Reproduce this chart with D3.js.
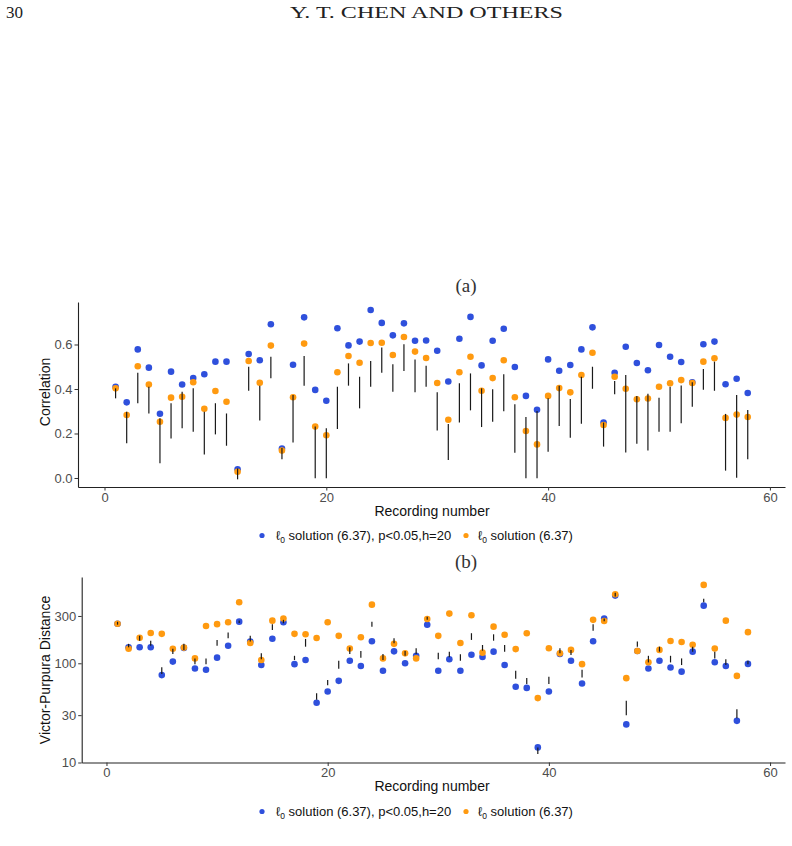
<!DOCTYPE html>
<html><head><meta charset="utf-8">
<script src="https://cdn.jsdelivr.net/npm/d3@7"></script>
<style>
body{margin:0;background:#fff;}
svg text{font-family:"Liberation Sans",Arial,sans-serif;}
.serif{font-family:"Liberation Serif","DejaVu Serif",serif !important;}
</style></head>
<body><svg id="c" width="792" height="846"></svg>
<script>
const recordings = d3.range(1, 59);
const blueA = [0.41,0.34,0.578,0.496,0.289,0.478,0.42,0.449,0.466,0.523,0.523,0.039,0.557,0.529,0.691,0.132,0.509,0.722,0.396,0.347,0.673,0.596,0.613,0.755,0.697,0.641,0.695,0.617,0.618,0.572,0.434,0.626,0.724,0.506,0.617,0.671,0.499,0.369,0.307,0.533,0.482,0.508,0.578,0.677,0.249,0.473,0.59,0.517,0.484,0.598,0.545,0.521,0.43,0.601,0.613,0.421,0.446,0.382];
const orangeA = [0.403,0.283,0.502,0.42,0.253,0.361,0.365,0.43,0.311,0.391,0.343,0.028,0.526,0.428,0.595,0.123,0.363,0.604,0.231,0.192,0.475,0.548,0.518,0.607,0.608,0.553,0.634,0.568,0.539,0.427,0.262,0.475,0.545,0.392,0.449,0.529,0.363,0.211,0.151,0.369,0.404,0.385,0.463,0.563,0.238,0.455,0.401,0.354,0.357,0.41,0.426,0.44,0.427,0.523,0.538,0.27,0.285,0.274];
const segHiA = [0.403,0.298,0.473,0.41,0.268,0.336,0.388,0.403,0.298,0.336,0.29,0.043,0.5,0.415,0.545,0.135,0.373,0.548,0.231,0.223,0.41,0.515,0.455,0.526,0.587,0.511,0.601,0.533,0.505,0.385,0.243,0.426,0.47,0.403,0.399,0.466,0.331,0.274,0.301,0.358,0.415,0.355,0.455,0.5,0.249,0.436,0.463,0.369,0.379,0.361,0.41,0.416,0.43,0.49,0.523,0.288,0.373,0.306];
const segLoA = [0.358,0.156,0.336,0.29,0.066,0.178,0.223,0.208,0.106,0.196,0.145,-0.006,0.392,0.258,0.448,0.084,0.159,0.415,-0.001,-0.001,0.22,0.415,0.313,0.41,0.473,0.388,0.481,0.385,0.41,0.213,0.081,0.249,0.304,0.229,0.253,0.3,0.114,-0.001,-0.001,0.118,0.234,0.181,0.244,0.401,0.141,0.376,0.115,0.154,0.123,0.208,0.208,0.246,0.32,0.397,0.392,0.033,0.001,0.084];

const blueB = [250,145,145,145,76,104,143,88.5,86,114,150,263,166,96,177,259,98,108,40,52,66.5,106,94,167,84,132,100,119,245,84,110,84,122,116,131,96,58,56.5,14.2,52,124,106,62.5,167,282,481,24.2,133,88.5,106,90.6,82.4,131,381,102.6,94,26.3,98.6];
const orangeB = [250,140,181,202,198,140,144,112,238,248,259,412,160,108,269,282,198,196,180,259,189,141,183,390,112,157,126,112,280,189,317,160,305,128,234,194,139,201,44.6,142,126,136.5,98,274,267,497,70.8,133,102.6,136.5,168,164,154,617,141,269,74.6,206];
const segHiB = [262,157,190,169,91,140,157,112,112,172,204,270,189,126,248,274,119,176,50,68,106,145,133,263,124,179,133,142,295,128,131,123,201,153,196,153,84,71,14.2,73,142,136,86,248,282,515,42,166,119,147,119,112,147,446,131,110,34.5,106];
const segLoB = [245,145,169,150,78,124,136,98,98,150,179,255,166,110,217,253,108,147,43,60,88,124,114,234,108,159,119,124,274,110,115,106,172,134,169,131,70,62,12.2,62,126,121,72,213,265,470,30,147,102,131,102,96,131,412,112,96,28,98];

const xTicks = [0,20,40,60];
const yTicksA = [0,0.2,0.4,0.6];
const yTicksB = [10,30,100,300];
const legendLabels = ["solution (6.37), p<0.05,h=20","solution (6.37)"];
const BLUE = "#2F50DC", ORANGE = "#FF9A10";

const svg = d3.select("#c");

// page header
svg.append("text").attr("class","serif").attr("x",6).attr("y",18).attr("font-size",17).attr("fill","#222").text("30");
svg.append("text").attr("class","serif").attr("x",290).attr("y",18).attr("font-size",17).attr("fill","#222")
  .attr("textLength",273).attr("lengthAdjust","spacingAndGlyphs").text("Y. T. CHEN AND OTHERS");

function panel(opts){
  const g = svg.append("g");
  const x = d3.scaleLinear().domain(opts.xd).range([opts.left, 785]);
  const y = opts.y;
  const ax = g.append("g").attr("transform",`translate(0,${opts.bottom})`)
    .call(d3.axisBottom(x).tickValues(xTicks).tickSize(3.5).tickPadding(2).tickSizeOuter(0));
  const ay = g.append("g").attr("transform",`translate(${opts.left},0)`)
    .call(d3.axisLeft(y).tickValues(opts.yTicks).tickFormat(opts.fmt).tickSize(3.5).tickPadding(2).tickSizeOuter(0));
  [ax,ay].forEach(a=>{
    a.select(".domain").attr("stroke","#222").attr("stroke-width",1.1);
    a.selectAll(".tick line").attr("stroke","#333").attr("stroke-width",1);
    a.selectAll(".tick text").attr("fill","#4D4D4D").attr("font-size",13).attr("font-family","Liberation Sans, Arial, sans-serif");
  });
  g.append("g").selectAll("circle").data(recordings).join("circle")
    .attr("cx",d=>x(d)).attr("cy",(d,i)=>y(opts.blue[i])).attr("r",3.3).attr("fill",BLUE);
  g.append("g").selectAll("circle").data(recordings).join("circle")
    .attr("cx",d=>x(d)).attr("cy",(d,i)=>y(opts.orange[i])).attr("r",3.3).attr("fill",ORANGE);
  g.append("g").selectAll("line").data(recordings).join("line")
    .attr("x1",d=>x(d)).attr("x2",d=>x(d))
    .attr("y1",(d,i)=>y(opts.lo[i])).attr("y2",(d,i)=>y(opts.hi[i]))
    .attr("stroke","#1a1a1a").attr("stroke-width",1.2);
  g.append("text").attr("x",432).attr("y",opts.bottom+28.5).attr("text-anchor","middle")
    .attr("font-size",14).attr("fill","#111").text("Recording number");
  g.append("text").attr("transform",`translate(${opts.ytx},${opts.ytY}) rotate(-90)`).attr("text-anchor","middle")
    .attr("font-size",14).attr("fill","#111").text(opts.ytitle);
  const ly = opts.legendY;
  g.append("circle").attr("cx",262).attr("cy",ly).attr("r",2.6).attr("fill",BLUE);
  const t1 = g.append("text").attr("x",276).attr("y",ly+4.5).attr("font-size",13).attr("fill","#111");
  t1.append("tspan").text("ℓ");
  t1.append("tspan").attr("font-size",8.5).attr("dy",3).text("0");
  t1.append("tspan").attr("dy",-3).text(" "+legendLabels[0]);
  g.append("circle").attr("cx",466).attr("cy",ly).attr("r",2.6).attr("fill",ORANGE);
  const t2 = g.append("text").attr("x",478).attr("y",ly+4.5).attr("font-size",13).attr("fill","#111");
  t2.append("tspan").text("ℓ");
  t2.append("tspan").attr("font-size",8.5).attr("dy",3).text("0");
  t2.append("tspan").attr("dy",-3).text(" "+legendLabels[1]);
  g.append("text").attr("class","serif").attr("x",466).attr("y",opts.labelY).attr("text-anchor","middle")
    .attr("font-size",19).attr("fill","#333").text(opts.label);
}

panel({xd:[-2.39,61.36], left:78, bottom:487,
  y:d3.scaleLinear().domain([-0.0405,0.791]).range([487,302]),
  yTicks:yTicksA, fmt:d3.format(".1f"),
  blue:blueA, orange:orangeA, lo:segLoA, hi:segHiA,
  ytitle:"Correlation", ytx:50, ytY:392, legendY:535.5, label:"(a)", labelY:292});

panel({xd:[-2.24,61.35], left:81.7, bottom:762.5,
  y:d3.scaleLog().domain([10,741]).range([762.5,577]),
  yTicks:yTicksB, fmt:d3.format("d"),
  blue:blueB, orange:orangeB, lo:segLoB, hi:segHiB,
  ytitle:"Victor-Purpura Distance", ytx:50, ytY:670, legendY:811.5, label:"(b)", labelY:568});
</script></body></html>
